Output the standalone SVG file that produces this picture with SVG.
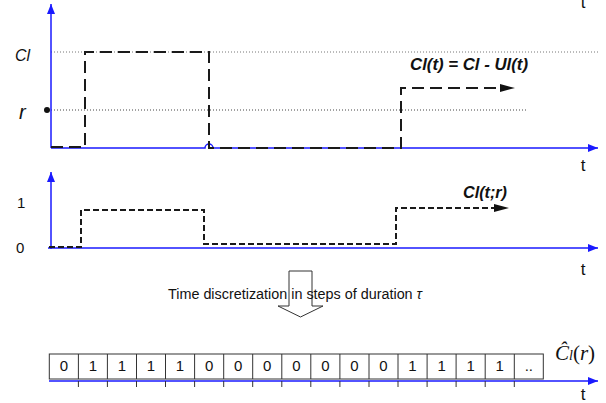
<svg xmlns="http://www.w3.org/2000/svg" width="606" height="403" viewBox="0 0 606 403">
  <style>
    .axis { stroke: #1a1aff; stroke-width: 1.5; fill: none; }
    .guide { stroke: #777; stroke-width: 1; stroke-dasharray: 1 2; fill: none; }
    .guide-dark { stroke: #444; stroke-width: 1; stroke-dasharray: 1 2; fill: none; }
    .sig-long { stroke: #1a1a1a; stroke-width: 2; stroke-dasharray: 12 6; fill: none; }
    .sig-short { stroke: #1a1a1a; stroke-width: 2; stroke-dasharray: 6 3; fill: none; }
    .lbl { font-family: "Liberation Sans", Arial, sans-serif; fill: #111; }
    .ital { font-style: italic; }
    .bi { font-style: italic; font-weight: bold; }
    .cell { fill: #fff; stroke: #333; stroke-width: 1; }
    .digit { font-family: "Liberation Sans", Arial, sans-serif; font-size: 15px; fill: #111; text-anchor: middle; }
    .tick { stroke: #333; stroke-width: 1; }
  </style>
  <defs>
    <marker id="axisHead" markerUnits="userSpaceOnUse" markerWidth="11" markerHeight="9" refX="10" refY="4" orient="auto">
      <path d="M0,0 L10,4 L0,8 Z" fill="#1a1aff"/>
    </marker>
    <marker id="sigHead" markerUnits="userSpaceOnUse" markerWidth="16" markerHeight="9" refX="0" refY="4" orient="auto">
      <path d="M0,0 L15,4 L0,8 Z" fill="#111"/>
    </marker>
  </defs>

  <!-- upper plot: continuous capacity signal -->
  <g id="top-plot">
    <line class="guide" x1="51" y1="52" x2="598" y2="52"/>
    <line class="guide-dark" x1="51" y1="110" x2="527" y2="110"/>
    <line class="axis" x1="51" y1="148" x2="51" y2="4" marker-end="url(#axisHead)"/>
    <path class="axis" d="M51,148 H205 A4,4 0 0 1 213,148 H598" marker-end="url(#axisHead)"/>
    <path class="sig-long" d="M51,147 H85 V52 H209 V148 H401 V88 H500" marker-end="url(#sigHead)"/>
    <circle cx="47" cy="110" r="3" fill="#111"/>
    <text class="lbl ital" x="15" y="61" font-size="16">Cl</text>
    <text class="lbl ital" x="19" y="119" font-size="20">r</text>
    <text class="lbl bi" x="410" y="70" font-size="16" textLength="118" lengthAdjust="spacingAndGlyphs">Cl(t) = Cl - Ul(t)</text>
    <text class="lbl" x="583" y="8" font-size="17" text-anchor="middle">t</text>
    <text class="lbl" x="583" y="171" font-size="17" text-anchor="middle">t</text>
  </g>

  <!-- middle plot: thresholded signal -->
  <g id="mid-plot">
    <line class="axis" x1="51" y1="249" x2="51" y2="172" marker-end="url(#axisHead)"/>
    <line class="axis" x1="48" y1="248" x2="598" y2="248" marker-end="url(#axisHead)"/>
    <path class="sig-short" d="M49,247 H81 V210 H204 V244 H396 V208 H494" marker-end="url(#sigHead)"/>
    <text class="lbl" x="17" y="208" font-size="15">1</text>
    <text class="lbl" x="16" y="253" font-size="15">0</text>
    <text class="lbl bi" x="463" y="198" font-size="16" textLength="44" lengthAdjust="spacingAndGlyphs">Cl(t;r)</text>
    <text class="lbl" x="583" y="275" font-size="17" text-anchor="middle">t</text>
  </g>

  <!-- discretization step -->
  <g id="connectors">
    <path d="M289,271 H312 V306 H323 L300.5,317 L278,306 H289 Z" fill="#fff" stroke="#333" stroke-width="1"/>
    <text class="lbl" x="168" y="299" font-size="14" textLength="254" lengthAdjust="spacingAndGlyphs">Time discretization in steps of duration <tspan class="ital">τ</tspan></text>
  </g>

  <!-- lower row: discrete samples -->
  <g id="cell-row">
    <rect class="cell" x="49.3" y="354" width="494" height="25"/>
    <path class="tick" d="M78.4,354 V379 M107.4,354 V379 M136.5,354 V379 M165.5,354 V379 M194.6,354 V379 M223.7,354 V379 M252.7,354 V379 M281.8,354 V379 M310.8,354 V379 M339.9,354 V379 M369,354 V379 M398,354 V379 M427.1,354 V379 M456.1,354 V379 M485.2,354 V379 M514.3,354 V379"/>
    <line class="axis" x1="49" y1="381" x2="598" y2="381" marker-end="url(#axisHead)"/>
    <path class="tick" d="M78.4,381 V387 M107.4,381 V387 M136.5,381 V387 M165.5,381 V387 M194.6,381 V387 M223.7,381 V387 M252.7,381 V387 M281.8,381 V387 M310.8,381 V387 M339.9,381 V387 M369,381 V387 M398,381 V387 M427.1,381 V387 M456.1,381 V387 M485.2,381 V387 M514.3,381 V387"/>
    <text class="digit" x="63.8" y="371">0</text>
    <text class="digit" x="92.9" y="371">1</text>
    <text class="digit" x="121.9" y="371">1</text>
    <text class="digit" x="151" y="371">1</text>
    <text class="digit" x="180" y="371">1</text>
    <text class="digit" x="209.1" y="371">0</text>
    <text class="digit" x="238.2" y="371">0</text>
    <text class="digit" x="267.2" y="371">0</text>
    <text class="digit" x="296.3" y="371">0</text>
    <text class="digit" x="325.4" y="371">0</text>
    <text class="digit" x="354.4" y="371">0</text>
    <text class="digit" x="383.5" y="371">0</text>
    <text class="digit" x="412.5" y="371">1</text>
    <text class="digit" x="441.6" y="371">1</text>
    <text class="digit" x="470.7" y="371">1</text>
    <text class="digit" x="499.7" y="371">1</text>
    <text class="digit" x="528.8" y="371">..</text>
    <text x="555" y="360" font-family="'Liberation Serif', 'Times New Roman', serif" font-size="21" font-style="italic" fill="#111">Ĉ<tspan font-size="14">l</tspan><tspan font-style="normal">(</tspan>r<tspan font-style="normal">)</tspan></text>
    <text class="lbl" x="583" y="400" font-size="17" text-anchor="middle">t</text>
  </g>
</svg>
